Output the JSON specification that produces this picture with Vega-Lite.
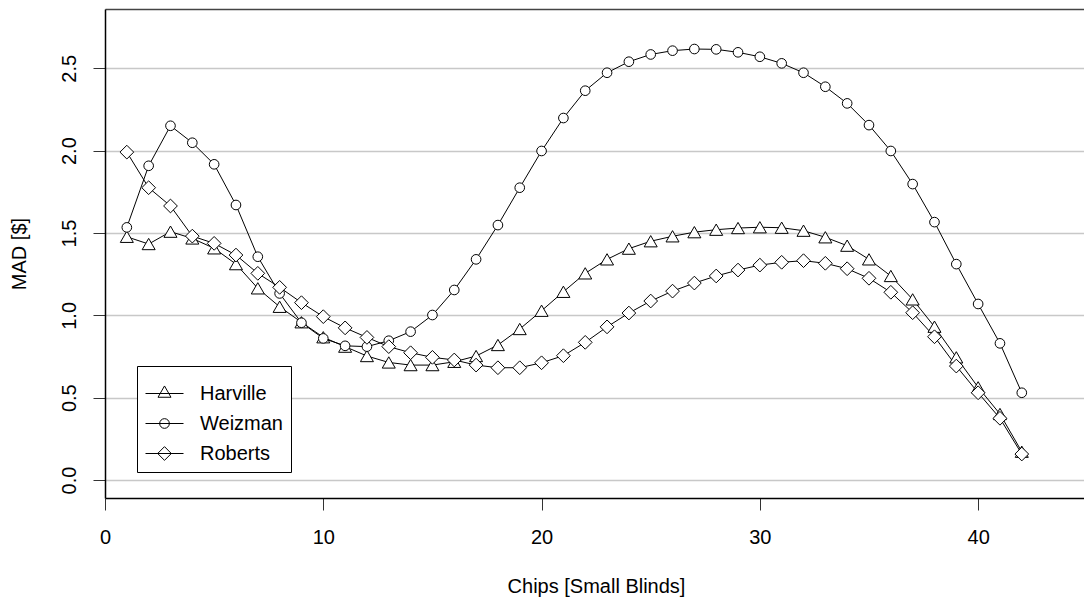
{
  "$schema": "https://vega.github.io/schema/vega-lite/v6.json",
  "width": 979,
  "height": 489,
  "autosize": {"type": "none"},
  "padding": {"left": 105, "top": 9, "right": 0, "bottom": 103},
  "background": "white",
  "config": {
    "view": {"stroke": null},
    "font": "Liberation Sans",
    "axis": {
      "labelFont": "Liberation Sans",
      "titleFont": "Liberation Sans",
      "labelFontSize": 20,
      "titleFontSize": 20,
      "labelColor": "black",
      "titleColor": "black",
      "titleFontWeight": "normal",
      "labelFlush": false,
      "labelOverlap": false
    }
  },
  "data": {
    "values": [
      {"chips": 1, "Harville": 1.477, "Weizman": 1.534, "Roberts": 1.991},
      {"chips": 2, "Harville": 1.433, "Weizman": 1.908, "Roberts": 1.775},
      {"chips": 3, "Harville": 1.508, "Weizman": 2.151, "Roberts": 1.664},
      {"chips": 4, "Harville": 1.467, "Weizman": 2.048, "Roberts": 1.481},
      {"chips": 5, "Harville": 1.407, "Weizman": 1.917, "Roberts": 1.437},
      {"chips": 6, "Harville": 1.311, "Weizman": 1.670, "Roberts": 1.366},
      {"chips": 7, "Harville": 1.164, "Weizman": 1.356, "Roberts": 1.255},
      {"chips": 8, "Harville": 1.052, "Weizman": 1.133, "Roberts": 1.170},
      {"chips": 9, "Harville": 0.958, "Weizman": 0.955, "Roberts": 1.077},
      {"chips": 10, "Harville": 0.867, "Weizman": 0.860, "Roberts": 0.992},
      {"chips": 11, "Harville": 0.810, "Weizman": 0.815, "Roberts": 0.924},
      {"chips": 12, "Harville": 0.753, "Weizman": 0.810, "Roberts": 0.866},
      {"chips": 13, "Harville": 0.714, "Weizman": 0.846, "Roberts": 0.810},
      {"chips": 14, "Harville": 0.698, "Weizman": 0.901, "Roberts": 0.773},
      {"chips": 15, "Harville": 0.698, "Weizman": 1.002, "Roberts": 0.745},
      {"chips": 16, "Harville": 0.718, "Weizman": 1.154, "Roberts": 0.729},
      {"chips": 17, "Harville": 0.753, "Weizman": 1.340, "Roberts": 0.698},
      {"chips": 18, "Harville": 0.820, "Weizman": 1.548, "Roberts": 0.682},
      {"chips": 19, "Harville": 0.917, "Weizman": 1.775, "Roberts": 0.682},
      {"chips": 20, "Harville": 1.028, "Weizman": 1.998, "Roberts": 0.712},
      {"chips": 21, "Harville": 1.143, "Weizman": 2.198, "Roberts": 0.755},
      {"chips": 22, "Harville": 1.255, "Weizman": 2.364, "Roberts": 0.836},
      {"chips": 23, "Harville": 1.340, "Weizman": 2.473, "Roberts": 0.930},
      {"chips": 24, "Harville": 1.405, "Weizman": 2.540, "Roberts": 1.014},
      {"chips": 25, "Harville": 1.450, "Weizman": 2.584, "Roberts": 1.087},
      {"chips": 26, "Harville": 1.480, "Weizman": 2.607, "Roberts": 1.147},
      {"chips": 27, "Harville": 1.505, "Weizman": 2.617, "Roberts": 1.196},
      {"chips": 28, "Harville": 1.520, "Weizman": 2.615, "Roberts": 1.239},
      {"chips": 29, "Harville": 1.530, "Weizman": 2.597, "Roberts": 1.275},
      {"chips": 30, "Harville": 1.535, "Weizman": 2.570, "Roberts": 1.305},
      {"chips": 31, "Harville": 1.532, "Weizman": 2.530, "Roberts": 1.322},
      {"chips": 32, "Harville": 1.514, "Weizman": 2.473, "Roberts": 1.332},
      {"chips": 33, "Harville": 1.474, "Weizman": 2.388, "Roberts": 1.316},
      {"chips": 34, "Harville": 1.423, "Weizman": 2.287, "Roberts": 1.283},
      {"chips": 35, "Harville": 1.340, "Weizman": 2.155, "Roberts": 1.225},
      {"chips": 36, "Harville": 1.239, "Weizman": 1.998, "Roberts": 1.140},
      {"chips": 37, "Harville": 1.097, "Weizman": 1.797, "Roberts": 1.016},
      {"chips": 38, "Harville": 0.931, "Weizman": 1.566, "Roberts": 0.870},
      {"chips": 39, "Harville": 0.745, "Weizman": 1.311, "Roberts": 0.692},
      {"chips": 40, "Harville": 0.563, "Weizman": 1.069, "Roberts": 0.530},
      {"chips": 41, "Harville": 0.401, "Weizman": 0.830, "Roberts": 0.375},
      {"chips": 42, "Harville": 0.172, "Weizman": 0.530, "Roberts": 0.158}
    ]
  },
  "transform": [{"fold": ["Harville", "Weizman", "Roberts"], "as": ["series", "mad"]}],
  "resolve": {"axis": {"x": "independent", "y": "independent"}, "scale": {"shape": "independent"}, "legend": {"shape": "independent"}},
  "layer": [
    {
      "mark": {"type": "line", "color": "black", "strokeWidth": 1},
      "encoding": {
        "x": {
          "field": "chips", "type": "quantitative",
          "scale": {"domain": [0, 44.85], "nice": false, "zero": false},
          "axis": {
            "orient": "bottom", "values": [0, 10, 20, 30, 40],
            "tickSize": 12, "tickColor": "#333333", "tickWidth": 1,
            "domainColor": "black", "domainWidth": 1.5,
            "labelBaseline": "alphabetic", "labelPadding": 33,
            "grid": false,
            "title": "Chips [Small Blinds]",
            "titleX": 491, "titleY": 94,
            "titleBaseline": "alphabetic", "titleAlign": "center"
          }
        },
        "y": {
          "field": "mad", "type": "quantitative",
          "scale": {"domain": [-0.109, 2.86], "nice": false, "zero": false},
          "axis": {
            "orient": "left", "values": [0, 0.5, 1, 1.5, 2, 2.5], "format": ".1f",
            "tickSize": 12, "tickColor": "#333333", "tickWidth": 1,
            "labelAngle": 270, "labelAlign": "center", "labelBaseline": "alphabetic", "labelPadding": 18,
            "grid": true, "gridColor": "#c8c8c8", "gridWidth": 1.5,
            "domainColor": "black", "domainWidth": 1.5,
            "title": "MAD [$]", "titleAngle": 270, "titleX": -80, "titleY": 244.5,
            "titleBaseline": "alphabetic", "titleAlign": "center"
          }
        },
        "detail": {"field": "series"}
      }
    },
    {
      "mark": {"type": "point", "filled": false, "fill": "white", "stroke": "black", "strokeWidth": 1, "opacity": 1, "size": 196},
      "encoding": {
        "x": {
          "field": "chips", "type": "quantitative",
          "axis": {"orient": "top", "labels": false, "ticks": false, "grid": false, "title": null, "domainColor": "#444444", "domainWidth": 1.5}
        },
        "y": {"field": "mad", "type": "quantitative", "axis": null},
        "shape": {
          "field": "series", "type": "nominal",
          "scale": {
            "domain": ["Harville", "Weizman", "Roberts"],
            "range": [
              "M0,-0.807L0.93,0.807L-0.93,0.807Z",
              "M0.69,0A0.69,0.69,0,1,1,-0.69,0A0.69,0.69,0,1,1,0.69,0Z",
              "M0,-0.98L0.98,0L0,0.98L-0.98,0Z"
            ]
          },
          "legend": null
        }
      }
    },
    {
      "transform": [{"filter": "datum.chips < 0"}],
      "mark": {"type": "point", "filled": false, "stroke": "black", "strokeWidth": 1, "size": 1444},
      "encoding": {
        "x": {"field": "chips", "type": "quantitative", "axis": null},
        "y": {"field": "mad", "type": "quantitative", "axis": null},
        "shape": {
          "field": "series", "type": "nominal",
          "scale": {
            "domain": ["Harville", "Weizman", "Roberts"],
            "range": [
              "M0,-0.434M0,0.434M-1,0H1M0,-0.397L0.342,0.198L-0.342,0.198Z",
              "M0,-0.434M0,0.434M-1,0H1M0.255,0A0.255,0.255,0,1,1,-0.255,0A0.255,0.255,0,1,1,0.255,0Z",
              "M0,-0.434M0,0.434M-1,0H1M0,-0.361L0.361,0L0,0.361L-0.361,0Z"
            ]
          },
          "legend": {
            "orient": "none", "legendX": 32, "legendY": 357, "title": null,
            "padding": 8, "strokeColor": "black", "fillColor": "white",
            "labelFont": "Liberation Sans", "labelFontSize": 20, "labelColor": "black",
            "labelOffset": 16, "labelBaseline": "middle", "rowPadding": -17,
            "labelExpr": "datum.label + ' '",
            "symbolSize": 1444, "symbolStrokeWidth": 1, "symbolStrokeColor": "black", "symbolFillColor": "transparent", "symbolOpacity": 1
          }
        }
      }
    }
  ]
}
